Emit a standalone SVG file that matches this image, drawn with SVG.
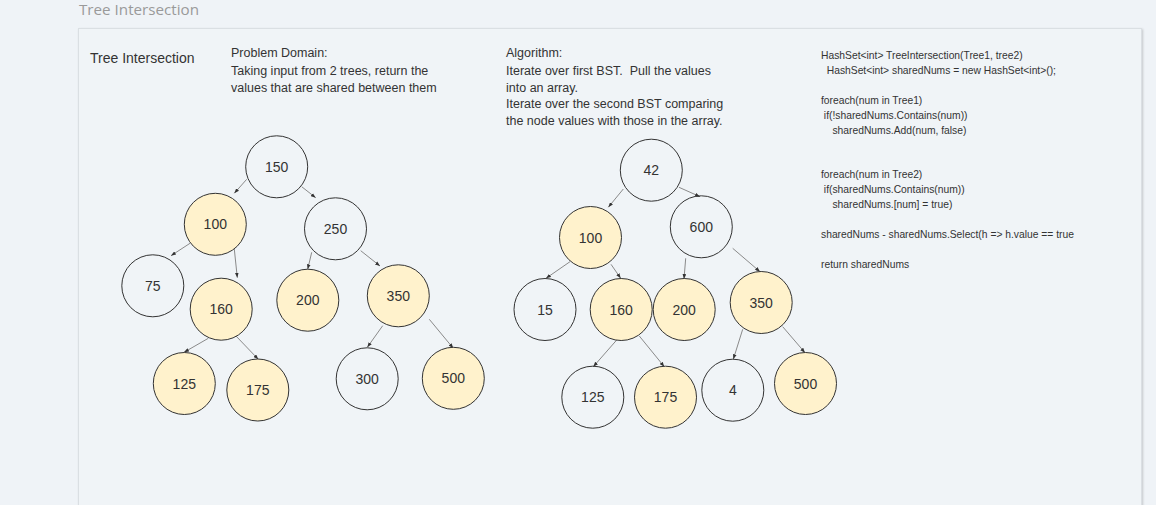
<svg xmlns="http://www.w3.org/2000/svg" width="1156" height="505" viewBox="0 0 1156 505">
<defs>
<style>
.n{stroke:#333;stroke-width:1;fill:none}
.y{fill:#fff2cc}
.t{font-family:"Liberation Sans",Arial,sans-serif;font-size:14px;fill:#333;text-anchor:middle;dominant-baseline:central}
.e{stroke:#8a8a8a;stroke-width:1;fill:none;marker-end:url(#a)}
.d{font-family:"Liberation Sans",Arial,sans-serif;font-size:12.5px;fill:#333}
.c{font-family:"Liberation Sans",Arial,sans-serif;font-size:10.3px;fill:#333}
</style>
<marker id="a" viewBox="0 0 8 6" refX="8" refY="3" markerWidth="5" markerHeight="4" orient="auto" markerUnits="userSpaceOnUse">
<path d="M0,0 L8,3 L0,6 Z" fill="#333"/>
</marker>
<filter id="sh" x="-2%" y="-2%" width="104%" height="104%">
<feDropShadow dx="1" dy="1" stdDeviation="1.2" flood-color="#000" flood-opacity="0.18"/>
</filter>
</defs>
<rect width="1156" height="505" fill="#eff3f7"/>
<text x="79" y="15" font-family="'Open Sans',sans-serif" font-size="15.2" fill="#9a9a9a">Tree Intersection</text>
<rect x="78.5" y="28.5" width="1063" height="490" fill="#f0f4f7" stroke="#dadfe3" filter="url(#sh)"/>
<g id="labels">
<text x="90" y="63" class="d" style="font-size:14px">Tree Intersection</text>
<text class="d"><tspan x="231" y="57">Problem Domain:</tspan><tspan x="231" y="75">Taking input from 2 trees, return the</tspan><tspan x="231" y="92">values that are shared between them</tspan></text>
<text class="d" xml:space="preserve"><tspan x="506" y="57">Algorithm:</tspan><tspan x="506" y="75">Iterate over first BST.  Pull the values</tspan><tspan x="506" y="92">into an array.</tspan><tspan x="506" y="108">Iterate over the second BST comparing</tspan><tspan x="506" y="125">the node values with those in the array.</tspan></text>
<text class="c" xml:space="preserve"><tspan x="821" y="59">HashSet&lt;int&gt; TreeIntersection(Tree1, tree2)</tspan><tspan x="821" y="74">  HashSet&lt;int&gt; sharedNums = new HashSet&lt;int&gt;();</tspan><tspan x="821" y="104">foreach(num in Tree1)</tspan><tspan x="821" y="119"> if(!sharedNums.Contains(num))</tspan><tspan x="821" y="134">    sharedNums.Add(num, false)</tspan><tspan x="821" y="178">foreach(num in Tree2)</tspan><tspan x="821" y="193"> if(sharedNums.Contains(num))</tspan><tspan x="821" y="208">    sharedNums.[num] = true)</tspan><tspan x="821" y="238">sharedNums - sharedNums.Select(h =&gt; h.value == true</tspan><tspan x="821" y="268">return sharedNums</tspan></text>
</g>
<g id="connectors">
<line class="e" x1="246.7" y1="179.3" x2="234.3" y2="193.3"/>
<line class="e" x1="301.7" y1="186.7" x2="315.7" y2="197.7"/>
<line class="e" x1="190" y1="243.3" x2="171" y2="255.7"/>
<line class="e" x1="234.3" y1="249" x2="237.3" y2="277.7"/>
<line class="e" x1="311.7" y1="252.3" x2="307.7" y2="269.3"/>
<line class="e" x1="360.7" y1="250.7" x2="380" y2="266"/>
<line class="e" x1="208.3" y1="338.3" x2="184" y2="352.3"/>
<line class="e" x1="236" y1="336" x2="258.3" y2="359.3"/>
<line class="e" x1="382.7" y1="325.7" x2="367.3" y2="347.3"/>
<line class="e" x1="429.3" y1="319.3" x2="453.3" y2="348.3"/>
<line class="e" x1="623.3" y1="189" x2="608.3" y2="207.3"/>
<line class="e" x1="679" y1="187.3" x2="700" y2="196.7"/>
<line class="e" x1="570" y1="261.7" x2="546" y2="278.3"/>
<line class="e" x1="611" y1="264.3" x2="620.7" y2="278.3"/>
<line class="e" x1="685.7" y1="258.3" x2="684" y2="279"/>
<line class="e" x1="732.7" y1="248.3" x2="760" y2="271.7"/>
<line class="e" x1="616.7" y1="340" x2="593.3" y2="366.7"/>
<line class="e" x1="639.3" y1="336" x2="664.3" y2="366.7"/>
<line class="e" x1="742.7" y1="329.3" x2="733.3" y2="359.3"/>
<line class="e" x1="782.7" y1="326.7" x2="805" y2="352.7"/>
</g>
<g id="t1-150"><circle class="n" cx="276.7" cy="166.8" r="31"/><text class="t" x="276.7" y="166.8">150</text></g>
<g id="t1-100"><circle class="n y" cx="215.3" cy="224.3" r="31"/><text class="t" x="215.3" y="224.3">100</text></g>
<g id="t1-250"><circle class="n" cx="335.5" cy="228.8" r="31"/><text class="t" x="335.5" y="228.8">250</text></g>
<g id="t1-75"><circle class="n" cx="152.8" cy="285.8" r="31"/><text class="t" x="152.8" y="285.8">75</text></g>
<g id="t1-160"><circle class="n y" cx="221.2" cy="309.2" r="31"/><text class="t" x="221.2" y="309.2">160</text></g>
<g id="t1-200"><circle class="n y" cx="307.8" cy="300.2" r="31"/><text class="t" x="307.8" y="300.2">200</text></g>
<g id="t1-350"><circle class="n y" cx="398.3" cy="295.8" r="31"/><text class="t" x="398.3" y="295.8">350</text></g>
<g id="t1-125"><circle class="n y" cx="184.3" cy="383.5" r="31"/><text class="t" x="184.3" y="383.5">125</text></g>
<g id="t1-175"><circle class="n y" cx="257.8" cy="390" r="31"/><text class="t" x="257.8" y="390">175</text></g>
<g id="t1-300"><circle class="n" cx="367.2" cy="378.8" r="31"/><text class="t" x="367.2" y="378.8">300</text></g>
<g id="t1-500"><circle class="n y" cx="453.3" cy="378.3" r="31"/><text class="t" x="453.3" y="378.3">500</text></g>
<g id="t2-42"><circle class="n" cx="651.3" cy="170.2" r="31"/><text class="t" x="651.3" y="170.2">42</text></g>
<g id="t2-100"><circle class="n y" cx="590.5" cy="237.5" r="31"/><text class="t" x="590.5" y="237.5">100</text></g>
<g id="t2-600"><circle class="n" cx="701.3" cy="226.8" r="31"/><text class="t" x="701.3" y="226.8">600</text></g>
<g id="t2-15"><circle class="n" cx="545" cy="309.5" r="31"/><text class="t" x="545" y="309.5">15</text></g>
<g id="t2-160"><circle class="n y" cx="621.2" cy="309.5" r="31"/><text class="t" x="621.2" y="309.5">160</text></g>
<g id="t2-200"><circle class="n y" cx="684.2" cy="309.5" r="31"/><text class="t" x="684.2" y="309.5">200</text></g>
<g id="t2-350"><circle class="n y" cx="761.2" cy="302.5" r="31"/><text class="t" x="761.2" y="302.5">350</text></g>
<g id="t2-125"><circle class="n" cx="592.8" cy="397.2" r="31"/><text class="t" x="592.8" y="397.2">125</text></g>
<g id="t2-175"><circle class="n y" cx="665.5" cy="397.2" r="31"/><text class="t" x="665.5" y="397.2">175</text></g>
<g id="t2-4"><circle class="n" cx="732.8" cy="390.2" r="31"/><text class="t" x="732.8" y="390.2">4</text></g>
<g id="t2-500"><circle class="n y" cx="805.5" cy="383.5" r="31"/><text class="t" x="805.5" y="383.5">500</text></g>
</svg>
